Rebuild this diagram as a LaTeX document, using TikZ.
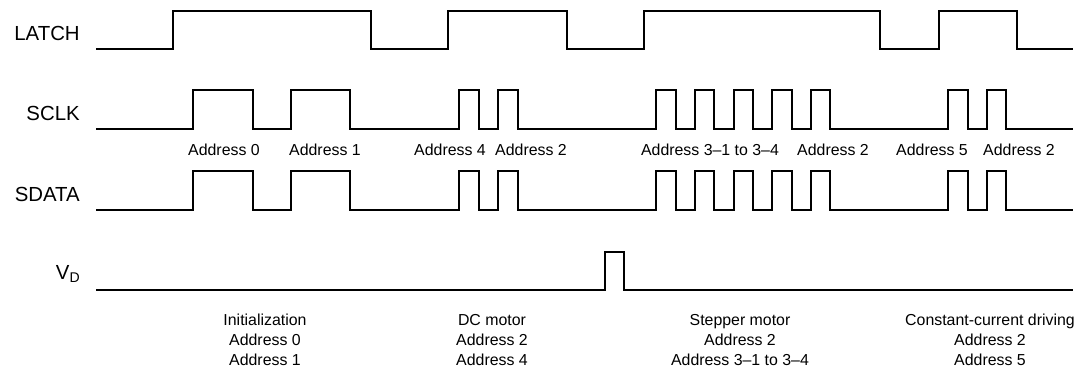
\documentclass[tikz,border=0pt]{standalone}
\usepackage{fontspec}
\setmainfont{Liberation Sans}
\usetikzlibrary{calc}
\tikzset{
  wave/.style={line width=1.5pt, line join=miter},
  signame/.style={anchor=east, inner sep=0pt, font=\fontsize{14.5}{17}\selectfont},
  addr/.style={inner sep=0pt, font=\fontsize{11.3}{14}\selectfont},
  mode/.style={inner sep=0pt, align=center, font=\fontsize{11.3}{14.2}\selectfont}
}
% rising/falling edges of the clock and data bursts
\newcommand{\clkpulses}{193/253, 291/350, 459/479, 498/518, 656/676, 695/714, 734/753, 772/792, 811/830, 948/968, 987/1006}

\begin{document}
\begin{tikzpicture}[x=0.025cm, y=-0.025cm]
\useasboundingbox (0,0) rectangle (1080,381);

% signal names
\node[signame] (latch) at (80,33) {LATCH};
\node[signame] (sclk) at (80,113) {SCLK};
\node[signame] (sdata) at (80,194) {SDATA};
\node[signame] (vd) at (80,274) {V\raisebox{-0.2ex}{\fontsize{10}{10}\selectfont D}};

% LATCH
\draw[wave] (96,49) -- (173,49) -- (173,11) -- (371,11) -- (371,49)
  -- (448,49) -- (448,11) -- (567,11) -- (567,49) -- (644,49) -- (644,11)
  -- (880,11) -- (880,49) -- (939,49) -- (939,11) -- (1017,11) -- (1017,49)
  -- (1073,49);

% SCLK
\draw[wave] (96,129) foreach \a/\b in \clkpulses {
  -- (\a,129) -- (\a,90) -- (\b,90) -- (\b,129) } -- (1073,129);

% SDATA
\draw[wave] (96,210) foreach \a/\b in \clkpulses {
  -- (\a,210) -- (\a,171) -- (\b,171) -- (\b,210) } -- (1073,210);

% VD
\draw[wave] (96,290) -- (605,290) -- (605,252) -- (624,252) -- (624,290)
  -- (1073,290);

% addresses sent on the bus
\node[addr] (a0) at (224,150) {Address 0};
\node[addr] (a1) at (325,150) {Address 1};
\node[addr] (a4) at (450,150) {Address 4};
\node[addr] (a2dc) at (531,150) {Address 2};
\node[addr] (a3) at (710,150) {Address 3--1 to 3--4};
\node[addr] (a2st) at (833,150) {Address 2};
\node[addr] (a5) at (932,150) {Address 5};
\node[addr] (a2cc) at (1019,150) {Address 2};

% modes
\node[mode] (init) at (265,340) {Initialization\\Address 0\\Address 1};
\node[mode] (dcm) at (492,340) {DC motor\\Address 2\\Address 4};
\node[mode] (stepm) at (740,340) {Stepper motor\\Address 2\\Address 3--1 to 3--4};
\node[mode] (ccd) at (990,340) {Constant-current driving\\Address 2\\Address 5};
\end{tikzpicture}
\end{document}
